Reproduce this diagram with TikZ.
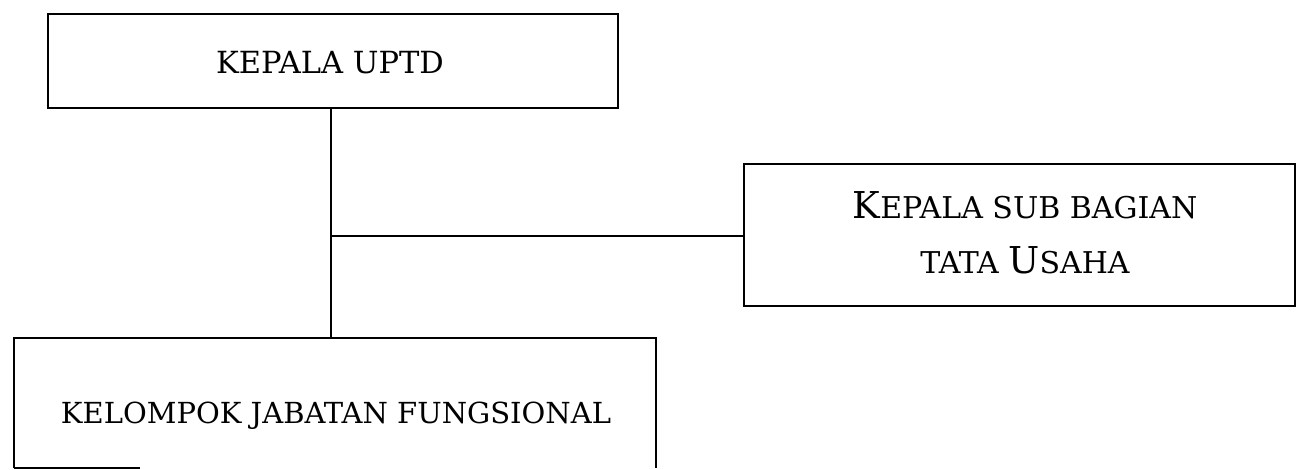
\documentclass[tikz,border=0pt]{standalone}
\usepackage{fontspec}
\setmainfont{DejaVu Serif}
\newcommand{\scbig}[1]{{\fontsize{37}{40}\selectfont #1}}
\newcommand{\scsmall}[1]{{\fontsize{30}{34}\selectfont #1}}
\begin{document}
\begin{tikzpicture}[x=1pt,y=-1pt,
  box/.style={draw, line width=2pt, inner sep=0pt},
  lbl/.style={font=\fontsize{30.5}{34}\selectfont, anchor=base, inner sep=0pt},
  link/.style={line width=2pt}]
\useasboundingbox (0,0) rectangle (1304,469);
\node[box, minimum width=570pt, minimum height=94pt] (uptd) at (333,61) {};
\node[lbl] (uptdt) at (330,73) {KEPALA UPTD};
\node[box, minimum width=551pt, minimum height=142pt] (tu) at (1019.5,235) {};
\node[lbl] (tut1) at (1025,218) {\scbig{K}\scsmall{EPALA SUB BAGIAN}};
\node[lbl] (tut2) at (1025,273) {\scsmall{TATA }\scbig{U}\scsmall{SAHA}};
\node[inner sep=0pt, minimum width=641pt, minimum height=130pt] (kjf) at (335,403) {};
\node[lbl, font=\fontsize{29}{33}\selectfont] (kjft) at (336,423) {KELOMPOK JABATAN FUNGSIONAL};
\draw[link] (kjf.south west) -- (kjf.north west) -- (kjf.north east) -- (kjf.south east);
\draw[link] (kjf.south west) -- ++(126,0);
\coordinate (j) at (331,236);
\draw[link] (uptd.south -| j) -- (kjf.north -| j);
\draw[link] (j) -- (j -| tu.west);
\end{tikzpicture}
\end{document}
